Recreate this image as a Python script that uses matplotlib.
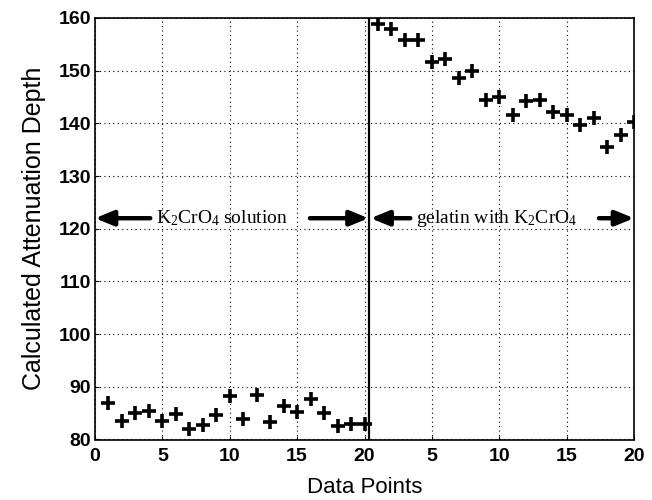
import matplotlib
matplotlib.use("Agg")
import matplotlib.pyplot as plt
import numpy as np

plt.rcParams["mathtext.fontset"] = "custom"
plt.rcParams["mathtext.rm"] = "Liberation Serif"
plt.rcParams["mathtext.it"] = "Liberation Serif"
plt.rcParams["mathtext.bf"] = "Liberation Serif"

# K2CrO4 solution (points 1..20)
solution_vals = [86.9, 83.5, 85.0, 85.4, 83.5, 84.8, 81.9, 82.7, 84.6, 88.2,
                 83.8, 88.4, 83.3, 86.3, 85.2, 87.7, 85.1, 82.5, 83.0, 83.0]
# gelatin with K2CrO4 (points 1..20)
gelatin_vals = [158.9, 158.0, 155.8, 155.8, 151.6, 152.3, 148.7, 149.9, 144.5, 145.0,
                141.6, 144.2, 144.5, 142.1, 141.5, 139.6, 141.0, 135.6, 137.8, 140.2]
tick_pos = [0, 5, 10, 15, 20, 25, 30, 35, 40]
tick_labels = ["0", "5", "10", "15", "20", "5", "10", "15", "20"]

x1 = np.arange(1, len(solution_vals) + 1)
x2 = np.arange(1, len(gelatin_vals) + 1) + 20

fig = plt.figure(figsize=(6.52, 5.0), dpi=100)
ax = fig.add_axes([0.1457, 0.121, 0.9724 - 0.1457, 0.964 - 0.121])

ax.plot(x1, solution_vals, linestyle="none", marker="+", color="black",
        markersize=10, markeredgewidth=2.6)
ax.plot(x2, gelatin_vals, linestyle="none", marker="+", color="black",
        markersize=10, markeredgewidth=2.6)

ax.axvline(20.37, color="black", lw=1.6)

ax.set_xlim(0, 40)
ax.set_ylim(80, 160)
ax.set_xticks(tick_pos)
ax.set_xticklabels(tick_labels)
ax.set_yticks(np.arange(80, 161, 10))
ax.grid(True, linestyle=(0, (1, 3)), color="black", lw=0.8)
ax.tick_params(direction="in", length=3, width=0.8, labelsize=14)
ax.tick_params(axis="x", pad=6)
ax.tick_params(axis="y", pad=3)
for lab in ax.get_xticklabels() + ax.get_yticklabels():
    lab.set_family("Liberation Sans")
    lab.set_fontweight("bold")
for s in ax.spines.values():
    s.set_linewidth(1.2)

ax.set_xlabel("Data Points", fontsize=16, family="Liberation Sans", labelpad=9)
ax.set_ylabel("Calculated Attenuation Depth", fontsize=18, family="Liberation Sans", labelpad=9)

ya = 122.0
ap = dict(arrowstyle="-|>,head_length=1.1,head_width=0.45", color="black", lw=3.2,
          shrinkA=0, shrinkB=0)
ax.annotate("", xy=(0.0, ya), xytext=(4.1, ya), arrowprops=ap)
ax.annotate("", xy=(20.3, ya), xytext=(15.95, ya), arrowprops=ap)
ax.annotate("", xy=(20.45, ya), xytext=(23.4, ya), arrowprops=ap)
ax.annotate("", xy=(40.0, ya), xytext=(37.4, ya), arrowprops=ap)
ax.text(9.4, ya, r"K$_2$CrO$_4$ solution", ha="center", va="center",
        fontsize=14, family="Liberation Serif")
ax.text(29.8, ya, r"gelatin with K$_2$CrO$_4$", ha="center", va="center",
        fontsize=14, family="Liberation Serif")

fig.savefig("out.png", dpi=100)
